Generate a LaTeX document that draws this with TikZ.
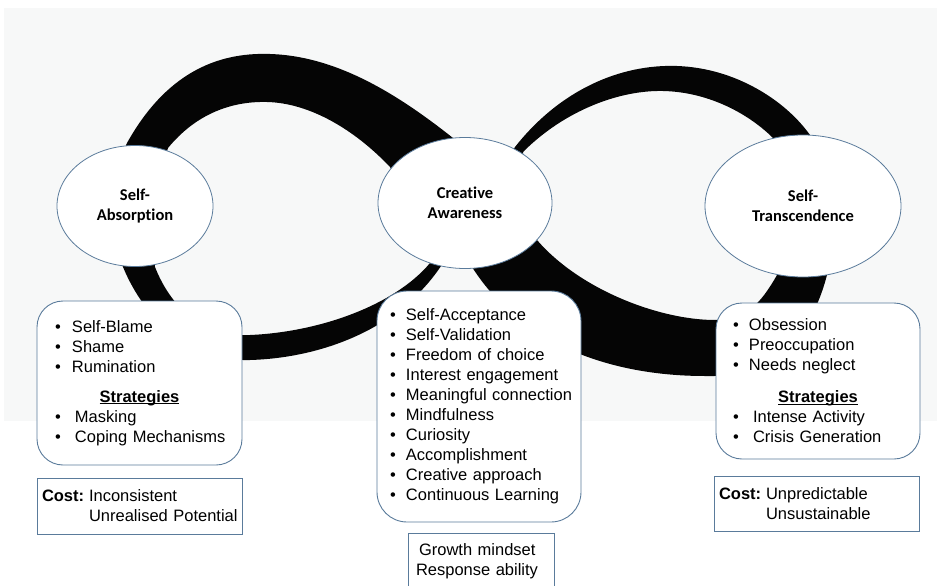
\documentclass[tikz,border=0pt]{standalone}
\usepackage{fontspec}
\setmainfont{Liberation Sans}
\newfontfamily\calfont[Ligatures=NoCommon]{Carlito}
\usetikzlibrary{shapes.geometric}
\definecolor{edge}{HTML}{5A7B9B}
\definecolor{haze}{HTML}{F7F8F8}
\definecolor{ink}{HTML}{050505}
\tikzset{stage/.style={ellipse,draw=edge,fill=white,line width=0.8pt,align=center,
  font=\calfont\bfseries\fontsize{16.5}{20}\selectfont,inner sep=0pt},
  listbox/.style={draw=edge,fill=white,rounded corners=26pt,line width=0.9pt,
  align=left,font=\fontsize{16.5}{20}\selectfont,inner ysep=0pt},
  costbox/.style={draw=edge,fill=white,line width=0.9pt,align=left,
  font=\fontsize{16.5}{20}\selectfont,inner xsep=5pt,inner ysep=0pt}}
\newcommand{\bitem}[2][17pt]{\mbox{\makebox[#1][l]{\textbullet}#2}}
\newcommand{\heading}[1]{\makebox[\hsize]{\setbox0=\hbox{\bfseries #1}%
  \rlap{\rule[-2pt]{\wd0}{1pt}}\box0}}
\newcommand{\cost}{\makebox[47pt][l]{\textbf{Cost:}}}
\begin{document}
\begin{tikzpicture}[x=1pt,y=-1pt]
\useasboundingbox (0,0) rectangle (937,586);
\clip (0,0) rectangle (937,586);
\fill[haze] (4,8) rectangle (937,421);
% left loop: thick on top, thin underneath
\fill[ink,even odd rule]
  (127,143) .. controls (165,75) and (215,52) .. (270,54)
    .. controls (335,56) and (395,92) .. (453,138)
    .. controls (457,180) and (455,220) .. (443,263)
    .. controls (400,330) and (320,358) .. (250,360)
    .. controls (190,362) and (145,320) .. (123,267)
    .. controls (108,235) and (110,180) .. (127,143) -- cycle
  (168,148) .. controls (195,115) and (230,101) .. (267,102)
    .. controls (310,103) and (355,130) .. (390,167)
    .. controls (405,195) and (420,230) .. (430,263)
    .. controls (395,305) and (320,332) .. (250,335)
    .. controls (200,337) and (170,305) .. (155,267)
    .. controls (152,235) and (158,180) .. (168,148) -- cycle;
% right loop: thin on top, thick underneath
\fill[ink,even odd rule]
  (515,147) .. controls (560,90) and (620,64) .. (677,66)
    .. controls (735,68) and (785,100) .. (810,135)
    .. controls (830,180) and (835,240) .. (827,275)
    .. controls (810,340) and (770,378) .. (705,376)
    .. controls (620,376) and (525,350) .. (472,267)
    .. controls (480,220) and (495,180) .. (515,147) -- cycle
  (523,152) .. controls (565,110) and (620,90) .. (663,91)
    .. controls (710,92) and (750,115) .. (773,138)
    .. controls (780,180) and (782,240) .. (777,275)
    .. controls (760,305) and (745,320) .. (715,320)
    .. controls (660,320) and (580,290) .. (537,240)
    .. controls (528,210) and (524,180) .. (523,152) -- cycle;
% the three stages
\node[stage,minimum width=156pt,minimum height=121pt] (absorb) at (135,206) {Self-\\Absorption};
\node[stage,minimum width=174pt,minimum height=131pt] (aware) at (465,203) {Creative\\Awareness};
\node[stage,minimum width=196pt,minimum height=142pt] (transc) at (803,206) {Self-\\Transcendence};
% lists under each stage
\node[listbox,text width=169pt,inner xsep=18pt,minimum height=164pt] (absorbList) at (139.5,383)
  {\bitem{Self-Blame}\\\bitem{Shame}\\\bitem{Rumination}\\[10pt]\heading{Strategies}\\
   \bitem[20pt]{Masking}\\\bitem[20pt]{Coping Mechanisms}};
\node[listbox,text width=178pt,inner xsep=13pt,minimum height=231pt,rounded corners=30pt] (awareList) at (479,406.5)
  {\bitem[16pt]{Self-Acceptance}\\\bitem[16pt]{Self-Validation}\\\bitem[16pt]{Freedom of choice}\\
   \bitem[16pt]{Interest engagement}\\\bitem[16pt]{Meaningful connection}\\\bitem[16pt]{Mindfulness}\\
   \bitem[16pt]{Curiosity}\\\bitem[16pt]{Accomplishment}\\\bitem[16pt]{Creative approach}\\
   \bitem[16pt]{Continuous Learning}};
\node[listbox,text width=170pt,inner xsep=17pt,minimum height=156pt] (transcList) at (818,381)
  {\bitem[16pt]{Obsession}\\\bitem[16pt]{Preoccupation}\\\bitem[16pt]{Needs neglect}\\[12pt]\heading{Strategies}\\
   \bitem[20pt]{Intense Activity}\\\bitem[20pt]{Crisis Generation}};
% what each stage costs or gives
\node[costbox,text width=195pt,minimum height=56pt] (absorbCost) at (139.5,506)
  {\cost Inconsistent\\\mbox{\hspace*{47pt}Unrealised Potential}};
\node[costbox,text width=195pt,minimum height=55pt] (transcCost) at (816.5,503.5)
  {\cost Unpredictable\\\mbox{\hspace*{47pt}Unsustainable}};
\node[costbox,text width=130pt,inner xsep=8pt,inner ysep=10pt,anchor=north] (growth) at (481,533)
  {\hspace*{3pt}Growth mindset\\Response ability};
\end{tikzpicture}
\end{document}
